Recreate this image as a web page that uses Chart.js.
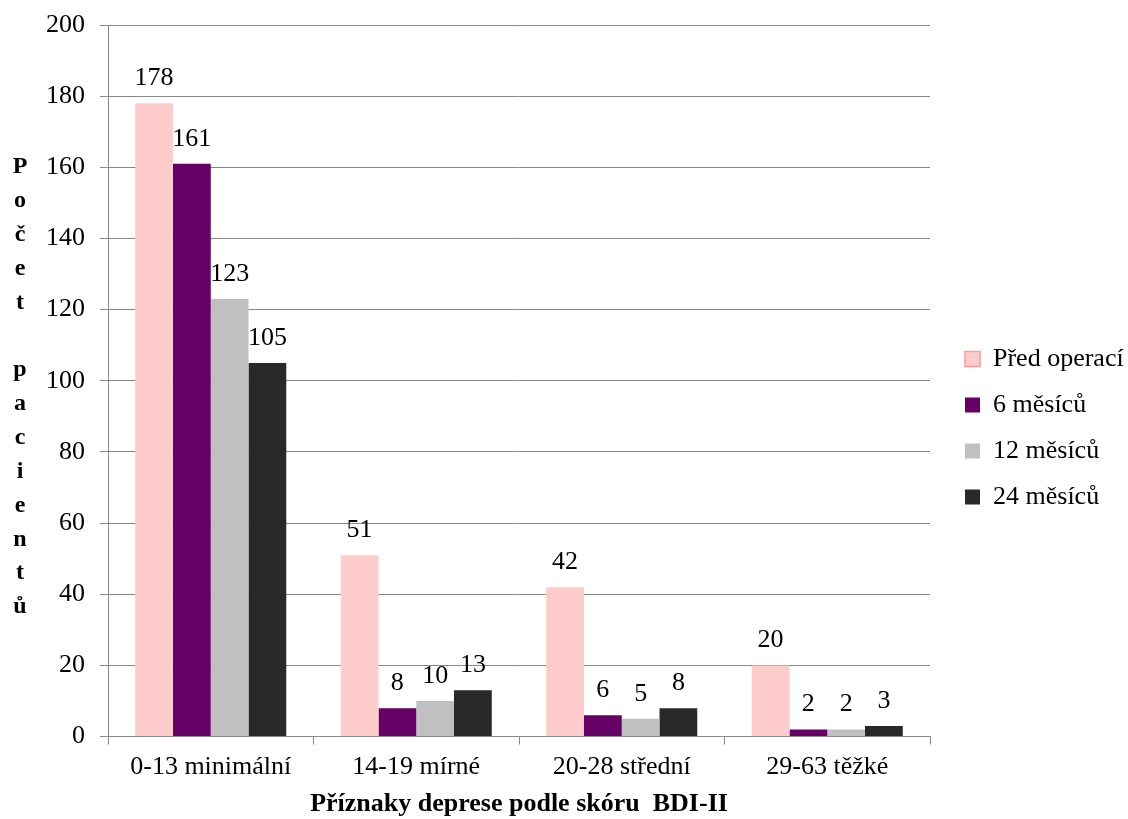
<!DOCTYPE html>
<html>
<head>
<meta charset="utf-8">
<script src="https://cdn.jsdelivr.net/npm/chart.js@4.4.0/dist/chart.umd.min.js"></script>
<style>
  html, body { margin: 0; padding: 0; background: #ffffff; }
  #wrap { width: 1128px; height: 819px; position: relative; }
</style>
</head>
<body>
<div id="wrap"><canvas id="chart"></canvas></div>
<script>
// Score bands (BDI-II) and patient counts at each follow-up time
const categories = ['0-13 minimální', '14-19 mírné', '20-28 střední', '29-63 těžké'];
const seriesNames = ['Před operací', '6 měsíců', '12 měsíců', '24 měsíců'];
const predOperaci = [178, 51, 42, 20];
const mesicu6 = [161, 8, 6, 2];
const mesicu12 = [123, 10, 5, 2];
const mesicu24 = [105, 13, 8, 3];
const yMin = 0, yMax = 200, yStep = 20;
const yTitle = 'Počet pacientů';
const xTitle = 'Příznaky deprese podle skóru  BDI-II';

const SERIF = '"Liberation Serif", "Times New Roman", serif';
const GRID = '#888888';
const colors = ['#FFCCCC', '#660066', '#C0C0C0', '#292929'];
const legendBorders = ['#FF9999', '#660066', '#C0C0C0', '#292929'];
const seriesValues = [predOperaci, mesicu6, mesicu12, mesicu24];

// Value labels written above every bar
const valueLabels = {
  id: 'valueLabels',
  afterDatasetsDraw(chart) {
    const ctx = chart.ctx;
    ctx.save();
    ctx.font = '26px ' + SERIF;
    ctx.fillStyle = '#000';
    ctx.textAlign = 'center';
    ctx.textBaseline = 'alphabetic';
    chart.data.datasets.forEach((ds, i) => {
      const meta = chart.getDatasetMeta(i);
      meta.data.forEach((bar, j) => {
        ctx.fillText(String(ds.data[j]), bar.x, bar.y - 18);
      });
    });
    ctx.restore();
  }
};

// Y axis title written as a column of single letters
const stackedYTitle = {
  id: 'stackedYTitle',
  afterDraw(chart) {
    const ctx = chart.ctx;
    const area = chart.chartArea;
    const letters = Array.from(yTitle);
    const step = 33.85;
    const mid = (area.top + area.bottom) / 2;
    const first = mid + 12.5 - step * (letters.length - 1) / 2;
    ctx.save();
    ctx.font = 'bold 24px ' + SERIF;
    ctx.fillStyle = '#000';
    ctx.textAlign = 'center';
    ctx.textBaseline = 'alphabetic';
    letters.forEach((ch, k) => {
      if (ch.trim()) ctx.fillText(ch, 20, first + k * step);
    });
    ctx.restore();
  }
};

new Chart(document.getElementById('chart'), {
  type: 'bar',
  data: {
    labels: categories,
    datasets: seriesNames.map((name, i) => ({
      label: name,
      data: seriesValues[i],
      backgroundColor: colors[i],
      borderWidth: 0,
      categoryPercentage: 0.735,
      barPercentage: 1.0
    }))
  },
  options: {
    responsive: true,
    maintainAspectRatio: false,
    animation: false,
    layout: { padding: { left: 31, top: 25, right: 0, bottom: 0 } },
    plugins: {
      tooltip: { enabled: false },
      legend: {
        position: 'right',
        maxWidth: 183,
        title: { display: true, text: ' ', font: { size: 10 }, padding: 0 },
        labels: {
          boxWidth: 15,
          boxHeight: 15,
          padding: 20,
          color: '#000',
          font: { family: SERIF, size: 26 },
          generateLabels(chart) {
            const items = Chart.defaults.plugins.legend.labels.generateLabels(chart);
            items.forEach((it, i) => {
              it.strokeStyle = legendBorders[i];
              it.lineWidth = i === 0 ? 1.5 : 0;
            });
            return items;
          }
        }
      }
    },
    scales: {
      x: {
        grid: {
          display: true,
          drawOnChartArea: false,
          drawTicks: true,
          tickLength: 8,
          color: GRID,
          offset: true
        },
        border: { display: true, color: GRID, width: 1 },
        ticks: { color: '#000', padding: 7.4, font: { family: SERIF, size: 26 } },
        title: {
          display: true,
          text: xTitle,
          color: '#000',
          font: { family: SERIF, size: 26, weight: 'bold', lineHeight: 1.0 },
          padding: { top: 0.4, bottom: 2 }
        }
      },
      y: {
        min: yMin,
        max: yMax,
        grid: { color: GRID, lineWidth: 1, tickLength: 8, drawTicks: true },
        border: { display: true, color: GRID, width: 1 },
        ticks: { stepSize: yStep, color: '#000', padding: 15, font: { family: SERIF, size: 26, lineHeight: 0.7 } }
      },
      gap: {
        type: 'linear',
        position: 'right',
        display: true,
        grid: { display: false },
        border: { display: false },
        ticks: { display: false },
        afterFit(scale) { scale.width = 15; }
      }
    }
  },
  plugins: [valueLabels, stackedYTitle]
});
</script>
</body>
</html>
